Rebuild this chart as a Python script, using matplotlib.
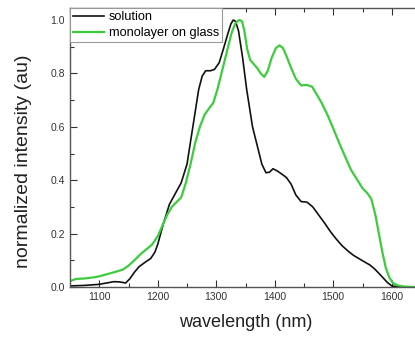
import matplotlib
matplotlib.use('Agg')
import matplotlib.pyplot as plt
from matplotlib.ticker import MultipleLocator

plt.rcParams['font.family'] = ['Liberation Sans', 'DejaVu Sans']

# --- data (wavelength in nm, normalized intensity) ---
wl_solution = [1050, 1075, 1100, 1115, 1125, 1135, 1145, 1152, 1160, 1168, 1178, 1188,
               1195, 1200, 1210, 1220, 1230, 1240, 1250, 1260, 1270, 1276, 1282,
               1290, 1297, 1305, 1312, 1320, 1325, 1329, 1333, 1338, 1345, 1352,
               1362, 1370, 1378, 1385, 1391, 1397, 1404, 1412, 1420, 1428, 1436,
               1445, 1455, 1465, 1475, 1485, 1495, 1505, 1515, 1525, 1535, 1545,
               1555, 1563, 1572, 1582, 1592, 1600, 1610, 1625, 1650]
int_solution = [0.004, 0.006, 0.01, 0.016, 0.02, 0.019, 0.015, 0.03, 0.055, 0.076, 0.092, 0.107,
                0.13, 0.16, 0.24, 0.31, 0.35, 0.39, 0.46, 0.6, 0.74, 0.79, 0.81,
                0.81, 0.815, 0.84, 0.89, 0.95, 0.985, 1.0, 0.995, 0.96, 0.86, 0.74,
                0.6, 0.53, 0.46, 0.428, 0.43, 0.443, 0.435, 0.423, 0.41, 0.385, 0.345,
                0.32, 0.318, 0.3, 0.27, 0.24, 0.208, 0.18, 0.155, 0.135, 0.118, 0.105,
                0.092, 0.082, 0.065, 0.042, 0.018, 0.004, 0.001, 0.0, 0.0]

wl_glass = [1050, 1060, 1075, 1090, 1100, 1110, 1125, 1140, 1150, 1160, 1170, 1180,
            1190, 1200, 1208, 1216, 1224, 1232, 1240, 1248, 1256, 1264, 1272, 1280,
            1288, 1295, 1302, 1310, 1318, 1326, 1332, 1336, 1340, 1344, 1348, 1353,
            1358, 1364, 1370, 1376, 1382, 1388, 1395, 1402, 1408, 1414, 1420, 1428,
            1436, 1445, 1455, 1464, 1472, 1480, 1490, 1500, 1510, 1520, 1530, 1540,
            1550, 1558, 1565, 1572, 1578, 1584, 1590, 1596, 1602, 1610, 1620, 1635, 1650]
int_glass = [0.022, 0.03, 0.032, 0.036, 0.04, 0.046, 0.055, 0.065, 0.08, 0.1, 0.122, 0.14,
             0.158, 0.19, 0.23, 0.27, 0.3, 0.318, 0.335, 0.39, 0.46, 0.54, 0.6, 0.645,
             0.67, 0.69, 0.74, 0.81, 0.88, 0.95, 0.985, 0.995, 1.0, 0.995, 0.96, 0.89,
             0.85, 0.835, 0.82, 0.8, 0.787, 0.81, 0.86, 0.895, 0.905, 0.895, 0.865, 0.82,
             0.78, 0.755, 0.757, 0.75, 0.72, 0.69, 0.645, 0.594, 0.54, 0.49, 0.44, 0.405,
             0.37, 0.352, 0.33, 0.27, 0.2, 0.13, 0.07, 0.035, 0.015, 0.006, 0.002, 0.0, 0.0]

labels = ["solution", "monolayer on glass"]
colors = ["#111111", "#3ccc3c"]

fig = plt.figure(figsize=(4.15, 3.38), dpi=100)
ax = fig.add_axes([70 / 415, 51 / 338, 351 / 415, 279 / 338])

ax.plot(wl_solution, int_solution, color=colors[0], lw=1.2, label=labels[0])
ax.plot(wl_glass, int_glass, color=colors[1], lw=1.6, label=labels[1])

ax.set_xlim(1050, 1650)
ax.set_ylim(0, 1.045)
ax.xaxis.set_major_locator(MultipleLocator(100))
ax.xaxis.set_minor_locator(MultipleLocator(50))
ax.yaxis.set_major_locator(MultipleLocator(0.2))
ax.yaxis.set_minor_locator(MultipleLocator(0.1))
ax.yaxis.set_major_formatter(plt.FuncFormatter(lambda v, p: f"{v:.1f}"))

ax.tick_params(which='both', direction='in', top=True, right=False,
               labelsize=7.5, labelcolor='#333333', color='#333333')
ax.tick_params(which='major', length=5, width=0.8)
ax.tick_params(which='minor', length=3, width=0.8)
for s in ax.spines.values():
    s.set_color('#555555')
    s.set_linewidth(1.0)

ax.set_xlabel("wavelength (nm)", fontsize=13, color='#222222', labelpad=9)
ax.set_ylabel("normalized intensity (au)", fontsize=14, color='#222222')
ax.yaxis.set_label_coords(-0.107, 0.45)

leg = ax.legend(loc='upper left', bbox_to_anchor=(0, 1), borderaxespad=0,
                fontsize=9.2, fancybox=False, framealpha=1, edgecolor='#999999',
                handlelength=2.4, handletextpad=0.4, borderpad=0.25, labelspacing=0.3)
leg.get_frame().set_linewidth(0.8)

fig.savefig("out.png", dpi=100)
